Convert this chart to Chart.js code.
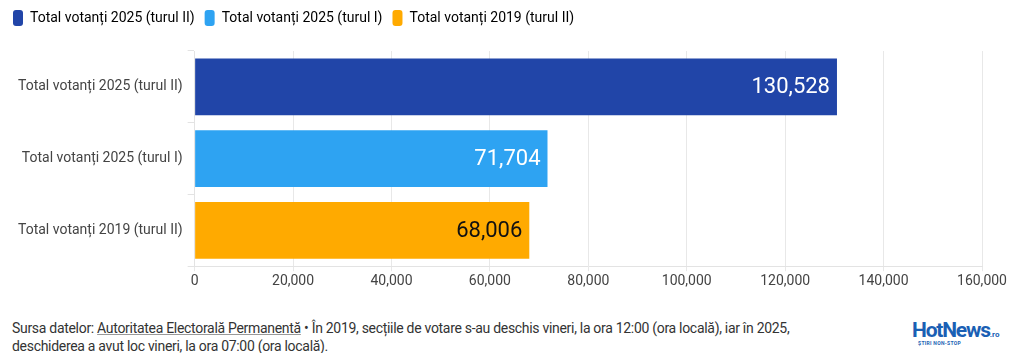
<!DOCTYPE html>
<html>
<head>
<meta charset="utf-8">
<script src="https://cdn.jsdelivr.net/npm/chart.js@4.4.0/dist/chart.umd.min.js"></script>
<style>
  html, body { margin: 0; padding: 0; background: #fff; }
  body { width: 1023px; height: 353px; overflow: hidden; position: relative; font-family: Roboto, sans-serif; }
  #wrap { position: absolute; left: 0; top: 0; width: 1023px; height: 292px; }
  #foot { position: absolute; left: 12px; top: 319px; width: 830px; font-size: 14px; line-height: 18px; color: #333; letter-spacing: -0.3px; }
  #foot u { text-decoration-color: #999; }
  #logo { position: absolute; left: 912px; top: 318px; font: bold 21px Roboto, sans-serif; color: #1a5fb4; letter-spacing: -1.2px; }
  #logo small { font-size: 8px; letter-spacing: 0; }
  #logo .sub { position: absolute; left: 6px; top: 22px; font-size: 5px; color: #1a5fb4; letter-spacing: 0.3px; white-space: nowrap; }
  #logo .sun { position: absolute; left: -6px; top: 3px; width: 10px; height: 18px; border-radius: 10px 0 0 10px; background: #f7b500; z-index: -1; }
</style>
</head>
<body>
<div id="wrap"><canvas id="chart"></canvas></div>
<div id="foot">Sursa datelor: <u>Autoritatea Electorală Permanentă</u> • În 2019, secțiile de votare s-au deschis vineri, la ora 12:00 (ora locală), iar în 2025, deschiderea a avut loc vineri, la ora 07:00 (ora locală).</div>
<div id="logo"><span class="sun"></span>HotNews<small>.ro</small><span class="sub">ȘTIRI NON-STOP</span></div>
<script>
// Chart data
const categories = ['Total votanți 2025 (turul II)', 'Total votanți 2025 (turul I)', 'Total votanți 2019 (turul II)'];
const voters = [130528, 71704, 68006];
const barColors = ['#2145a8', '#2ea3f2', '#ffaa00'];
const labelColors = ['#ffffff', '#ffffff', '#111111'];
const xTicks = [0, 20000, 40000, 60000, 80000, 100000, 120000, 140000, 160000];

const fontFamily = 'Roboto, sans-serif';

// Value labels drawn at the end of each bar
const valueLabels = {
    id: 'valueLabels',
    afterDatasetsDraw(chart) {
        const ctx = chart.ctx;
        const meta = chart.getDatasetMeta(0);
        ctx.save();
        ctx.font = '22px ' + fontFamily;
        ctx.textAlign = 'right';
        ctx.textBaseline = 'middle';
        meta.data.forEach(function(bar, i) {
            ctx.fillStyle = labelColors[i];
            ctx.fillText(voters[i].toLocaleString('en-US'), bar.x - 7, bar.y + 1);
        });
        ctx.restore();
    }
};

// extra gap under the legend
const legendGap = {
    id: 'legendGap',
    beforeInit(chart) {
        const fit = chart.legend.fit;
        chart.legend.fit = function() {
            fit.bind(chart.legend)();
            this.height += 15;
        };
    }
};

const ctx = document.getElementById('chart');
new Chart(ctx, {
    type: 'bar',
    data: {
        labels: categories,
        datasets: [{
            data: voters,
            backgroundColor: barColors,
            borderWidth: 0,
            barPercentage: 0.89,
            categoryPercentage: 0.89
        }]
    },
    plugins: [valueLabels, legendGap],
    options: {
        indexAxis: 'y',
        responsive: true,
        maintainAspectRatio: false,
        animation: false,
        layout: { padding: { left: 3, right: 41, top: 0, bottom: 0 } },
        plugins: {
            legend: {
                display: true,
                position: 'top',
                align: 'start',
                labels: {
                    boxWidth: 10,
                    boxHeight: 16,
                    useBorderRadius: true,
                    borderRadius: 3,
                    padding: 10,
                    color: '#333',
                    font: { family: fontFamily, size: 14 },
                    generateLabels: function() {
                        return categories.map(function(c, i) {
                            return { text: c, fillStyle: barColors[i], strokeStyle: barColors[i], lineWidth: 0, borderRadius: 3, index: i };
                        });
                    }
                },
                onClick: null
            },
            tooltip: { enabled: false }
        },
        scales: {
            x: {
                min: 0,
                max: 160000,
                afterBuildTicks: function(axis) {
                    axis.ticks = xTicks.map(function(v) { return { value: v }; });
                },
                ticks: {
                    color: '#444',
                    font: { family: fontFamily, size: 14 },
                    padding: 2,
                    callback: function(v) { return v.toLocaleString('en-US'); }
                },
                grid: { color: '#e8e8e8', tickLength: 5 },
                border: { color: '#e3e3e3' }
            },
            y: {
                afterFit: function(scale) { scale.width += 10; },
                ticks: {
                    color: '#444',
                    font: { family: fontFamily, size: 14 },
                    padding: 5
                },
                grid: { drawOnChartArea: false, color: '#e3e3e3', tickLength: 7 },
                border: { color: '#e3e3e3' }
            }
        }
    }
});
</script>
</body>
</html>
